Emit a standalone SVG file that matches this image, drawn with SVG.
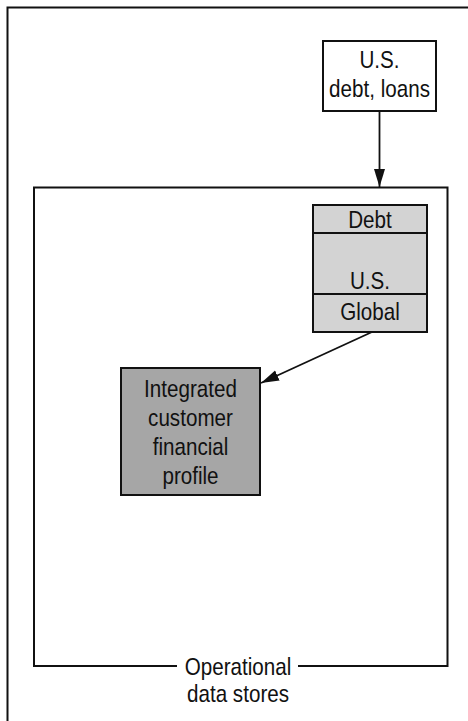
<svg xmlns="http://www.w3.org/2000/svg" width="468" height="721" viewBox="0 0 468 721">
<style>
.t{font-family:"Liberation Sans",Arial,sans-serif;font-size:24px;fill:#111;text-anchor:middle}
.box{stroke:#111;stroke-width:2}
.ln{stroke:#111;stroke-width:2;fill:none}
</style>
<defs>
<marker id="ah" markerWidth="18" markerHeight="12" viewBox="0 0 18 12" refX="18" refY="6" orient="auto" markerUnits="userSpaceOnUse">
<path d="M0,0.5 L18,6 L0,11.5 Z" fill="#111"/>
</marker>
</defs>
<rect width="468" height="721" fill="#fff"/>
<g id="frame">
<path class="ln" d="M7.5,730 V7.5 H470"/>
</g>
<g id="ods">
<path class="ln" d="M177,666 H34 V187.5 H447.5 V666 H298"/>
<g transform="translate(238,0) scale(0.86,1)">
<text class="t" x="0" y="675">Operational</text>
<text class="t" x="0" y="702">data stores</text>
</g>
</g>
<g id="usdebt">
<rect class="box" x="323" y="41" width="113" height="70" fill="#fff"/>
<g transform="translate(379.5,0) scale(0.86,1)">
<text class="t" x="0" y="68">U.S.</text>
<text class="t" x="0" y="97">debt, loans</text>
</g>
</g>
<g id="store">
<rect class="box" x="313" y="205" width="114" height="127" fill="#d3d3d3"/>
<line class="ln" x1="313" y1="233" x2="427" y2="233"/>
<line class="ln" x1="313" y1="294" x2="427" y2="294"/>
<g transform="translate(370,0) scale(0.86,1)">
<text class="t" x="0" y="228">Debt</text>
<text class="t" x="0" y="289">U.S.</text>
<text class="t" x="0" y="320">Global</text>
</g>
</g>
<g id="profile">
<rect class="box" x="121" y="368" width="139" height="127" fill="#a6a6a6"/>
<g transform="translate(190.5,0) scale(0.86,1)">
<text class="t" x="0" y="397">Integrated</text>
<text class="t" x="0" y="426">customer</text>
<text class="t" x="0" y="455">financial</text>
<text class="t" x="0" y="484">profile</text>
</g>
</g>
<g id="connectors">
<line class="ln" x1="379.5" y1="111" x2="379.5" y2="187" marker-end="url(#ah)" style="stroke-width:1.8"/>
<line class="ln" x1="372" y1="332" x2="261" y2="383" marker-end="url(#ah)" style="stroke-width:1.8"/>
</g>
</svg>
